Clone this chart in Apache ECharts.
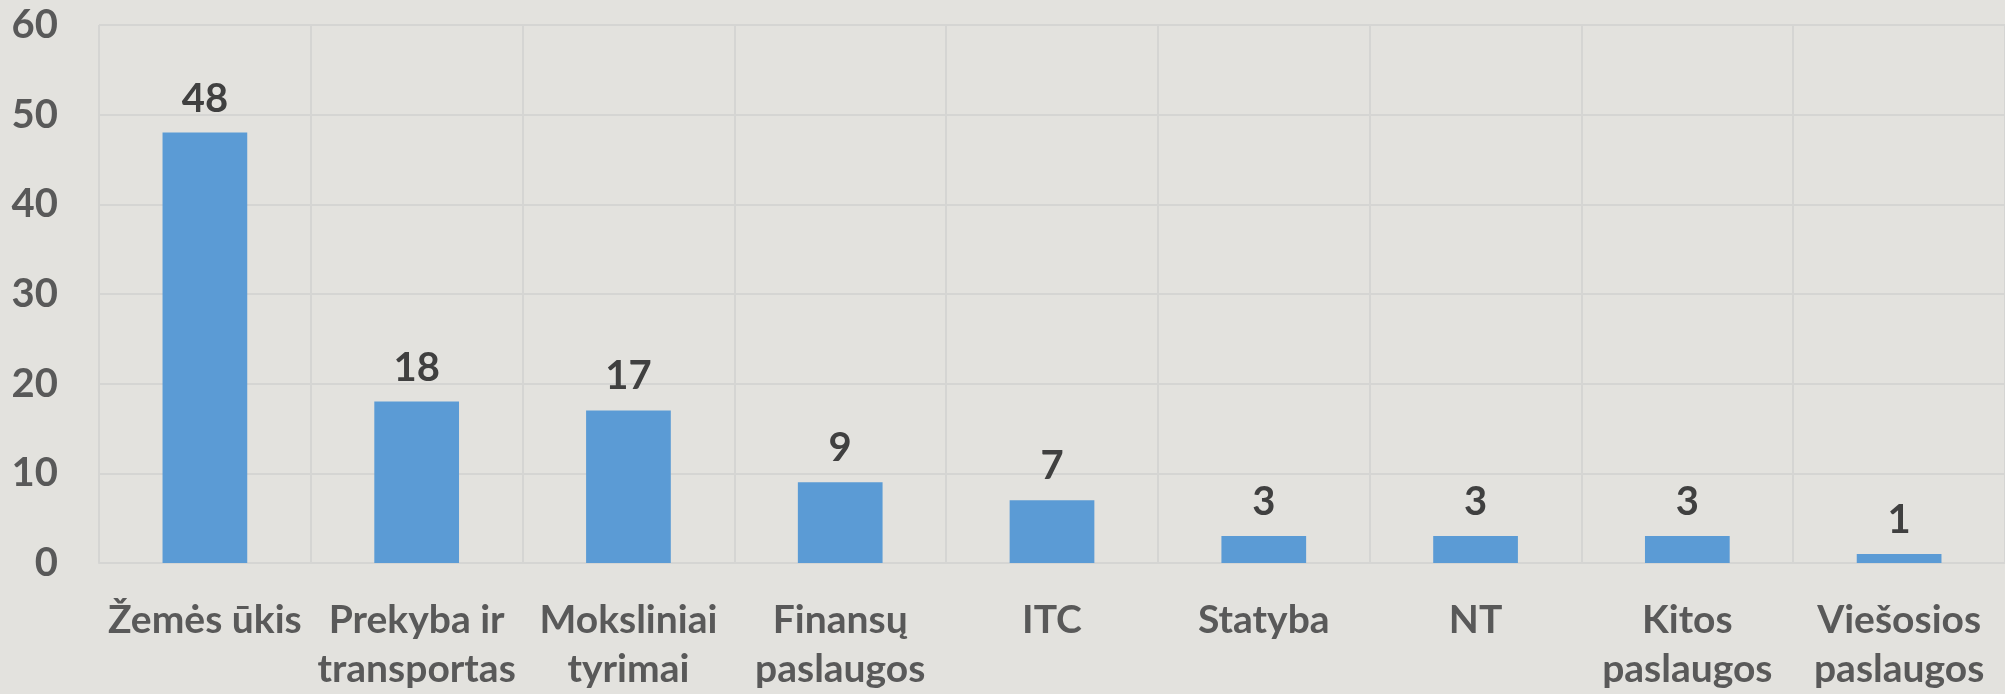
<!DOCTYPE html>
<html>
<head>
<meta charset="utf-8">
<script src="https://cdn.jsdelivr.net/npm/echarts@6/dist/echarts.min.js"></script>
<style>
html,body{margin:0;padding:0;background:#e3e2de;}
#chart{width:2005px;height:694px;}
</style>
</head>
<body>
<div id="chart"></div>
<script>
const categories = ["Žemės ūkis", "Prekyba ir\ntransportas", "Moksliniai\ntyrimai", "Finansų\npaslaugos", "ITC", "Statyba", "NT", "Kitos\npaslaugos", "Viešosios\npaslaugos"];
const values = [48, 18, 17, 9, 7, 3, 3, 3, 1];
const yTicks = [0, 10, 20, 30, 40, 50, 60];

const FONT = 'Lato, "Open Sans", sans-serif';
const chart = echarts.init(document.getElementById('chart'));
chart.setOption({
  backgroundColor: '#e3e2de',
  animation: false,
  grid: { left: 99, top: 25, width: 1912, height: 539, containLabel: false },
  xAxis: {
    type: 'category',
    data: categories,
    axisLine: { show: true, lineStyle: { color: '#d5d5d3', width: 2 } },
    axisTick: { show: false },
    splitLine: { show: true, lineStyle: { color: '#d5d5d3', width: 2 } },
    axisLabel: {
      interval: 0, margin: 33, color: '#595959', fontFamily: FONT,
      fontWeight: 'bold', fontSize: 39, lineHeight: 49
    }
  },
  yAxis: {
    type: 'value', min: yTicks[0], max: yTicks[yTicks.length - 1], interval: 10,
    axisLine: { show: false }, axisTick: { show: false },
    splitLine: { show: true, lineStyle: { color: '#d5d5d3', width: 2 } },
    axisLabel: { margin: 41, color: '#595959', fontFamily: FONT, fontWeight: 'bold', fontSize: 40 }
  },
  series: [{
    type: 'bar', data: values, barWidth: '40%',
    itemStyle: { color: '#5b9bd5' },
    label: {
      show: true, position: 'top', distance: 14, color: '#404040',
      fontFamily: FONT, fontWeight: 'bold', fontSize: 40
    }
  }]
});
</script>
</body>
</html>
